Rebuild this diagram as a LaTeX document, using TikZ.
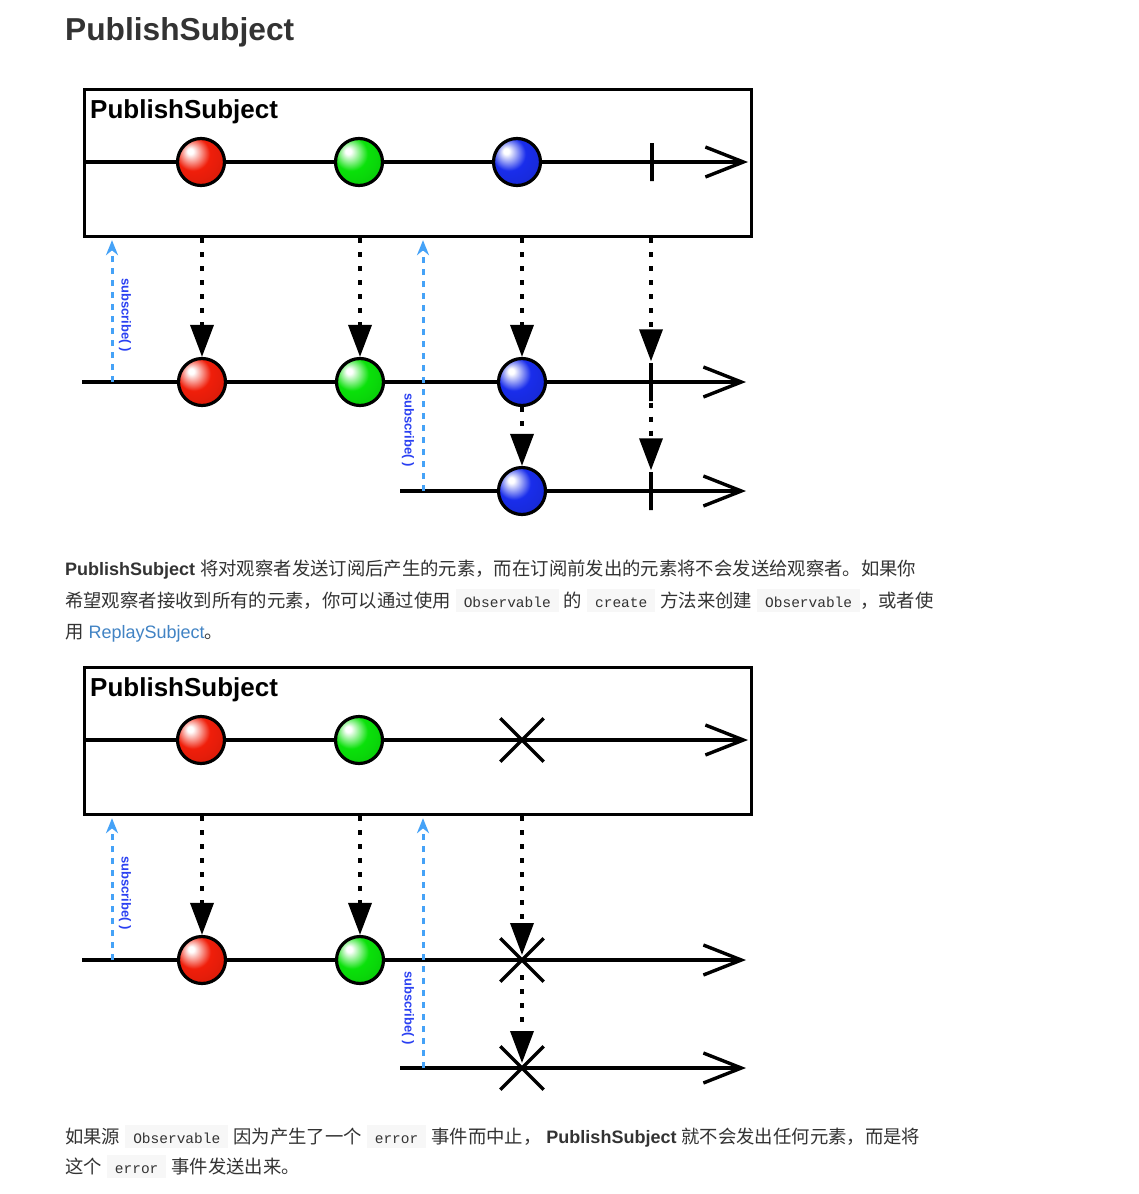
\documentclass[tikz,border=0pt]{standalone}
\usepackage{fontspec}
\setmainfont{Liberation Sans}
\setmonofont{Liberation Mono}
\newfontfamily\cjk[Scale=1.02]{Noto Sans CJK SC}
\usetikzlibrary{arrows.meta,shapes.misc}

\definecolor{textgray}{HTML}{333333}
\definecolor{codebg}{HTML}{F7F7F7}
\definecolor{linkblue}{HTML}{4183C4}
\definecolor{subblue}{HTML}{45A2F7}
\definecolor{subtext}{HTML}{2A40F2}
\definecolor{mred}{RGB}{240,30,10}
\definecolor{mgreen}{RGB}{10,225,10}
\definecolor{mblue}{RGB}{25,45,235}

\pgfdeclareradialshading{redball}{\pgfpoint{-12bp}{12bp}}{color(0bp)=(white); color(3bp)=(white); color(18bp)=(mred); color(45bp)=(mred!85!black); color(65bp)=(mred!55!black)}
\pgfdeclareradialshading{greenball}{\pgfpoint{-12bp}{12bp}}{color(0bp)=(white); color(3bp)=(white); color(18bp)=(mgreen); color(45bp)=(mgreen!85!black); color(65bp)=(mgreen!55!black)}
\pgfdeclareradialshading{blueball}{\pgfpoint{-12bp}{12bp}}{color(0bp)=(white); color(3bp)=(white); color(18bp)=(mblue); color(45bp)=(mblue!85!black); color(65bp)=(mblue!55!black)}

\newcommand{\codebox}[1]{{\setlength{\fboxsep}{0pt}\colorbox{codebg}{\rule[-5pt]{0pt}{23pt}\hspace{8pt}\fontsize{14.5}{16}\selectfont\ttfamily #1\hspace{8pt}}}}

\tikzset{
  frame/.style={draw, line width=3.2pt, rectangle, minimum width=667pt, minimum height=147pt, anchor=north west, inner sep=0pt},
  timeline/.style={line width=3.4pt, -{Straight Barb[length=38pt,width=30pt]}},
  marble/.style={circle, draw, line width=3.2pt, minimum size=47pt, inner sep=0pt, shade, shading=#1},
  tickmark/.style={rectangle, draw, line width=3.4pt, minimum width=0pt, minimum height=38pt, inner sep=0pt},
  errmark/.style={cross out, draw, line width=3.4pt, minimum size=40pt, inner sep=0pt},
  emit/.style={line width=3.6pt, dash pattern=on 5pt off 9pt, -{Triangle[length=32pt,width=23pt]}},
  subscr/.style={subblue, line width=3pt, dash pattern=on 6pt off 6pt, shorten >=2pt, -{Stealth[length=15pt,width=12pt]}},
  sublabel/.style={text=subtext, font=\fontsize{13}{13}\selectfont\bfseries, rotate=-90, inner sep=0pt},
  title/.style={anchor=base west, inner sep=0pt, font=\fontsize{26}{28}\selectfont\bfseries},
  para/.style={anchor=base west, inner sep=0pt, text=textgray, font=\fontsize{18}{22}\selectfont},
}

\begin{document}
\begin{tikzpicture}[x=1pt, y=-1pt]
\useasboundingbox[fill=white] (0,0) rectangle (1139,1194);
\node[anchor=base west, inner sep=0pt, text=textgray, font=\fontsize{31.7}{34}\selectfont\bfseries] (heading) at (65,40) {PublishSubject};

% subject completes
\node[frame] (box1) at (83,88) {};
\node[title] (title1) at (90,118) {PublishSubject};
\coordinate (a1) at (83,162);  \coordinate (z1) at (748,162);
\coordinate (a2) at (82,382);  \coordinate (z2) at (746,382);
\coordinate (a3) at (400,491); \coordinate (z3) at (746,491);
\draw[timeline] (a1) -- (z1);
\draw[timeline] (a2) -- (z2);
\draw[timeline] (a3) -- (z3);
\coordinate (s1) at (112,382);
\coordinate (s2) at (423,491);
\draw[subscr] (s1) -- (box1.south -| s1);
\draw[subscr] (s2) -- (box1.south -| s2);
\node[sublabel] (l1) at (125,315) {subscribe( )};
\node[sublabel] (l2) at (408,430) {subscribe( )};
\node[marble=redball]   (r1) at (201,162) {};
\node[marble=greenball] (g1) at (359,162) {};
\node[marble=blueball]  (b1) at (517,162) {};
\node[tickmark] (t1) at (652,162) {};
\node[marble=redball]   (r2) at (202,382) {};
\node[marble=greenball] (g2) at (360,382) {};
\node[marble=blueball]  (b2) at (522,382) {};
\node[tickmark] (t2) at (651,382) {};
\node[marble=blueball]  (b3) at (522,491) {};
\node[tickmark] (t3) at (651,491) {};
\draw[emit] (box1.south -| r2) -- (r2);
\draw[emit] (box1.south -| g2) -- (g2);
\draw[emit] (box1.south -| b2) -- (b2);
\draw[emit] (box1.south -| t2) -- (t2);
\draw[emit] (b2) -- (b3);
\draw[emit] (t2) -- (t3);

\node[para] (p1a) at (65,575) {\textbf{PublishSubject} {\cjk 将对观察者发送订阅后产生的元素，而在订阅前发出的元素将不会发送给观察者。如果你}};
\node[para] (p1b) at (65,607) {{\cjk 希望观察者接收到所有的元素，你可以通过使用} \codebox{Observable} {\cjk 的} \codebox{create} {\cjk 方法来创建} \codebox{Observable}{\cjk ，或者使}};
\node[para] (p1c) at (65,638) {{\cjk 用} \textcolor{linkblue}{ReplaySubject}{\cjk 。}};

% subject fails
\node[frame] (box2) at (83,666) {};
\node[title] (title2) at (90,696) {PublishSubject};
\coordinate (c1) at (83,740);  \coordinate (y1) at (748,740);
\coordinate (c2) at (82,960);  \coordinate (y2) at (746,960);
\coordinate (c3) at (400,1068); \coordinate (y3) at (746,1068);
\draw[timeline] (c1) -- (y1);
\draw[timeline] (c2) -- (y2);
\draw[timeline] (c3) -- (y3);
\coordinate (s3) at (112,960);
\coordinate (s4) at (423,1068);
\draw[subscr] (s3) -- (box2.south -| s3);
\draw[subscr] (s4) -- (box2.south -| s4);
\node[sublabel] (l3) at (125,893) {subscribe( )};
\node[sublabel] (l4) at (408,1008) {subscribe( )};
\node[marble=redball]   (r4) at (201,740) {};
\node[marble=greenball] (g4) at (359,740) {};
\node[errmark] (x4) at (522,740) {};
\node[marble=redball]   (r5) at (202,960) {};
\node[marble=greenball] (g5) at (360,960) {};
\node[errmark] (x5) at (522,960) {};
\node[errmark] (x6) at (522,1068) {};
\draw[emit] (box2.south -| r5) -- (r5);
\draw[emit] (box2.south -| g5) -- (g5);
\draw[emit, shorten >=5pt] (box2.south -| x5) -- (x5.center);
\draw[emit, shorten <=15pt, shorten >=5pt] (x5.center) -- (x6.center);

\node[para] (p2a) at (65,1143) {{\cjk 如果源} \codebox{Observable} {\cjk 因为产生了一个} \codebox{error} {\cjk 事件而中止，} \textbf{PublishSubject} {\cjk 就不会发出任何元素，而是将}};
\node[para] (p2b) at (65,1173) {{\cjk 这个} \codebox{error} {\cjk 事件发送出来。}};
\end{tikzpicture}
\end{document}
